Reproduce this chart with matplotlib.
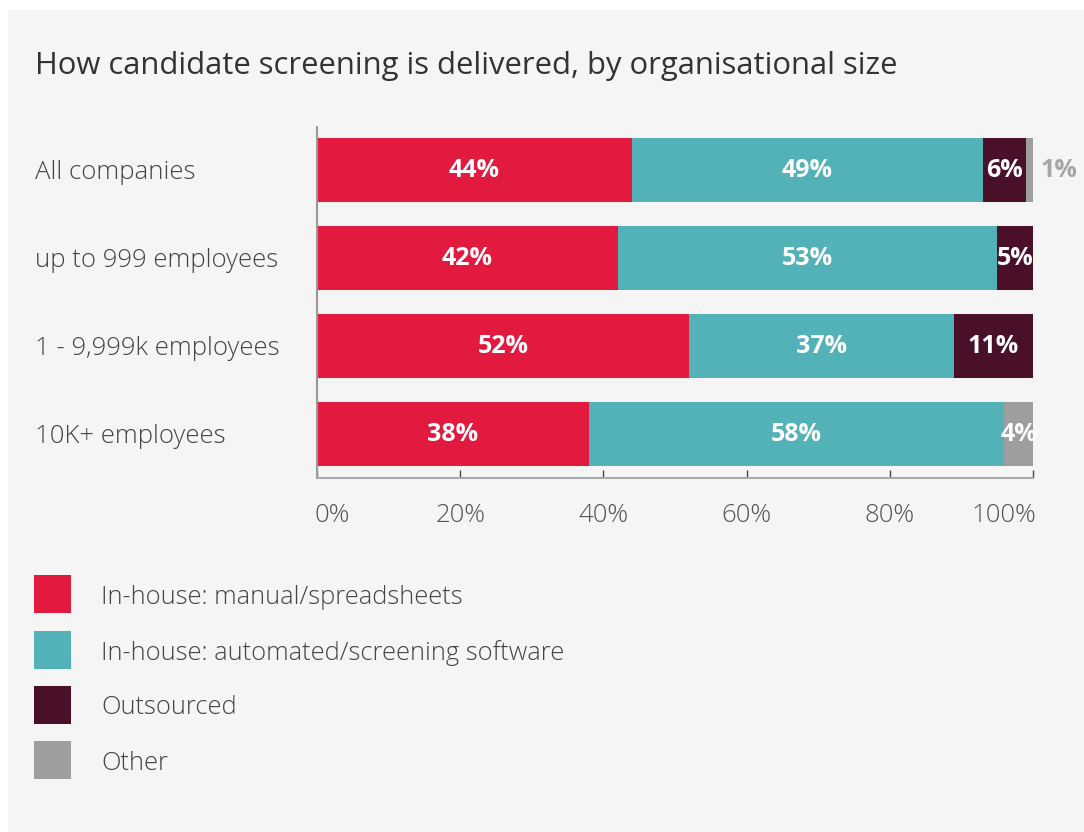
import numpy as np
import matplotlib
matplotlib.use('Agg')
import matplotlib.pyplot as plt
from matplotlib.patches import Rectangle
import matplotlib.transforms as mtransforms

plt.rcParams['font.family'] = ['Open Sans', 'DejaVu Sans']

groups = ['All companies', 'up to 999 employees', '1 - 9,999k employees', '10K+ employees']
series = ['In-house: manual/spreadsheets', 'In-house: automated/screening software',
          'Outsourced', 'Other']
manual = [44, 42, 52, 38]
automated = [49, 53, 37, 58]
outsourced = [6, 5, 11, 0]
other = [1, 0, 0, 4]
xticks = [0, 20, 40, 60, 80, 100]
xtick_labels = ['0%', '20%', '40%', '60%', '80%', '100%']

colors = ['#E31A40', '#53B2B7', '#4A1029', '#9E9E9E']
bg = '#F5F5F5'

W, H = 1084, 832
fig = plt.figure(figsize=(W / 100, H / 100), dpi=100, facecolor='white')
fig.patches.append(Rectangle((8 / W, 0), 1 - 8 / W, 1 - 10 / H, transform=fig.transFigure,
                             facecolor=bg, edgecolor='none', zorder=-10))

ax = fig.add_axes([317 / W, 1 - 478 / H, 716 / W, 351 / H])
ax.set_facecolor(bg)

y = np.arange(len(groups))
left = np.zeros(len(groups))
data = [manual, automated, outsourced, other]
for vals, col in zip(data, colors):
    vals = np.array(vals, dtype=float)
    ax.barh(y, vals, left=left, height=0.727, color=col, edgecolor='none')
    for yi, v, l in zip(y, vals, left):
        if v >= 3:
            ax.text(l + v / 2, yi, f'{int(v)}%', ha='center', va='center', color='white',
                    fontsize=18, fontweight='bold')
        elif v > 0:
            ax.text(l + v + 1, yi, f'{int(v)}%', ha='left', va='center', color='#A6A6A6',
                    fontsize=18, fontweight='bold', clip_on=False)
    left += vals

ax.set_xlim(0, 100)
ax.set_ylim(3.5, -0.49)
ax.set_yticks([])
for s in ['top', 'right']:
    ax.spines[s].set_visible(False)
ax.spines['left'].set_color('#999999')
ax.spines['left'].set_linewidth(1.5)
ax.spines['bottom'].set_color('#AAAAAA')
ax.spines['bottom'].set_linewidth(1.5)

ax.set_xticks(xticks)
ax.set_xticklabels(xtick_labels)
ax.tick_params(axis='x', direction='in', length=6, width=1, color='#444444',
               pad=18, labelsize=18.5, labelcolor='#555555')
for lbl in ax.get_xticklabels():
    lbl.set_fontweight('light')
labels = ax.get_xticklabels()
labels[0].set_ha('left')
labels[-1].set_ha('right')
# keep the end labels inside the axis span
labels[0].set_transform(labels[0].get_transform() + mtransforms.ScaledTranslation(-3 / 100, 0, fig.dpi_scale_trans))
labels[-1].set_transform(labels[-1].get_transform() + mtransforms.ScaledTranslation(3 / 100, 0, fig.dpi_scale_trans))

# category names on the left
trans = mtransforms.blended_transform_factory(fig.transFigure, ax.transData)
shift = mtransforms.ScaledTranslation(0, -2 / 100, fig.dpi_scale_trans)
for yi, g in zip(y, groups):
    ax.text(35 / W, yi, g, transform=trans + shift, ha='left', va='center', fontsize=18.5,
            color='#444444', fontweight='light')

fig.text(35 / W, 1 - 66 / H, 'How candidate screening is delivered, by organisational size',
         ha='left', va='center', fontsize=22.3, color='#333333')

# legend
leg_y = [594, 650, 705, 760]
for ly, col, name in zip(leg_y, colors, series):
    fig.patches.append(Rectangle((34 / W, 1 - (ly + 19) / H), 37 / W, 38 / H,
                                 transform=fig.transFigure, facecolor=col, edgecolor='none'))
    fig.text(101 / W, 1 - (ly + 3) / H, name, ha='left', va='center', fontsize=18.4,
             color='#444444', fontweight='light')

fig.savefig('out.png', dpi=100, facecolor=fig.get_facecolor())
